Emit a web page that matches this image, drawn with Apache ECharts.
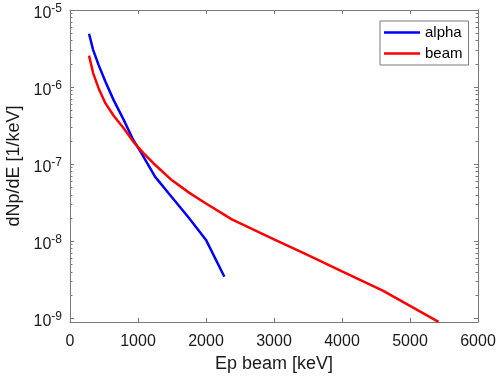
<!DOCTYPE html>
<html>
<head>
<meta charset="utf-8">
<script src="https://cdn.jsdelivr.net/npm/echarts@6/dist/echarts.min.js"></script>
<style>
html,body{margin:0;padding:0;background:#fff;}
#main{width:498px;height:377px;}
</style>
</head>
<body>
<div id="main"></div>
<script>
// data
var energyAlpha = [280, 340, 420, 520, 640, 790, 930, 1050, 1250, 1450, 1750, 2000, 2270];
var dndeAlpha = [4.91e-6, 3.04e-6, 1.94e-6, 1.18e-6, 6.82e-7, 3.75e-7, 2.06e-7, 1.39e-7, 6.89e-8, 4.19e-8, 2.0e-8, 1.04e-8, 3.46e-9];
var energyBeam = [280, 340, 420, 520, 640, 790, 930, 1080, 1230, 1500, 1750, 2000, 2380, 3000, 3500, 4000, 4600, 5420];
var dndeBeam = [2.56e-6, 1.52e-6, 9.68e-7, 6.18e-7, 4.27e-7, 2.92e-7, 1.96e-7, 1.39e-7, 1.02e-7, 6.17e-8, 4.27e-8, 3.09e-8, 1.92e-8, 1.06e-8, 6.61e-9, 4.07e-9, 2.29e-9, 9.0e-10];
var yDecades = [1e-9, 1e-8, 1e-7, 1e-6, 1e-5];
var yMin = 8.95e-10, yMax = 1e-5;

var font = 'Liberation Sans, Arial, sans-serif';
var axisCol = '#7a7a7a';
var txtCol = '#1a1a1a';

// log minor ticks 2..9 in every decade
var yMinor = [];
for (var i = 0; i < yDecades.length - 1; i++) {
	for (var k = 2; k <= 9; k++) {
		yMinor.push(k * yDecades[i]);
	}
}

function pairs(xs, ys) {
	var out = [];
	for (var i = 0; i < xs.length; i++) out.push([xs[i], ys[i]]);
	return out;
}

function yAx(pos, withLabel, minor) {
	var ax = {
		type: 'log', position: pos, offset: 0, min: yMin, max: yMax,
		axisLine: {show: !minor, lineStyle: {color: axisCol, width: 1}},
		axisTick: {show: true, inside: true, length: minor ? 2.5 : 4,
			customValues: minor ? yMinor : yDecades,
			lineStyle: {color: axisCol, width: 1}},
		axisLabel: {show: false},
		splitLine: {show: false},
		minorTick: {show: false}
	};
	if (withLabel) {
		ax.axisLabel = {
			show: true, customValues: yDecades, margin: 8, padding: [7, 0, 0, 0],
			formatter: function (v) {
				var e = Math.round(Math.log10(v));
				return '{b|10}{s|' + e + '}';
			},
			rich: {
				b: {fontSize: 16, lineHeight: 22, color: txtCol, fontFamily: font},
				s: {fontSize: 12, lineHeight: 5, verticalAlign: 'top', color: txtCol, fontFamily: font}
			}
		};
		ax.name = 'dNp/dE [1/keV]';
		ax.nameLocation = 'middle';
		ax.nameGap = 40;
		ax.nameTextStyle = {fontSize: 18, color: txtCol, fontFamily: font};
	}
	return ax;
}

function xAx(pos, withLabel) {
	var ax = {
		type: 'value', position: pos, min: 0, max: 6000, interval: 1000,
		axisLine: {show: true, onZero: false, lineStyle: {color: axisCol, width: 1}},
		axisTick: {show: true, inside: true, length: 4, lineStyle: {color: axisCol, width: 1}},
		axisLabel: {show: withLabel, fontSize: 16, margin: 12, color: txtCol, fontFamily: font,
			formatter: function (v) { return String(v); }},
		splitLine: {show: false}
	};
	if (withLabel) {
		ax.name = 'Ep beam [keV]';
		ax.nameLocation = 'middle';
		ax.nameGap = 33;
		ax.nameTextStyle = {fontSize: 18, color: txtCol, fontFamily: font};
	}
	return ax;
}

var chart = echarts.init(document.getElementById('main'));
var option = {
	backgroundColor: '#fff',
	animation: false,
	grid: {left: 70, right: 20, top: 10, bottom: 55, outerBoundsMode: 'none'},
	legend: {
		orient: 'vertical', left: 380, top: 21,
		padding: [4, 6, 4, 4], itemGap: 6, itemWidth: 36, itemHeight: 15,
		backgroundColor: '#fff', borderColor: axisCol, borderWidth: 1, borderRadius: 0,
		textStyle: {fontSize: 15, color: '#000', fontFamily: font},
		data: [
			{name: 'alpha', icon: 'path://M0,6.25H36V8.75H0Z'},
			{name: 'beam', icon: 'path://M0,6.25H36V8.75H0Z'}
		]
	},
	xAxis: [xAx('bottom', true), xAx('top', false)],
	yAxis: [yAx('left', true, false), yAx('left', false, true), yAx('right', false, false), yAx('right', false, true)],
	series: [
		{
			name: 'alpha', type: 'line', xAxisIndex: 0, yAxisIndex: 0,
			symbol: 'none', showSymbol: false,
			lineStyle: {color: '#0000ff', width: 2.5}, itemStyle: {color: '#0000ff'},
			data: pairs(energyAlpha, dndeAlpha)
		},
		{
			name: 'beam', type: 'line', xAxisIndex: 0, yAxisIndex: 0,
			symbol: 'none', showSymbol: false,
			lineStyle: {color: '#ff0000', width: 2.5}, itemStyle: {color: '#ff0000'},
			data: pairs(energyBeam, dndeBeam)
		}
	]
};
chart.setOption(option);
</script>
</body>
</html>
